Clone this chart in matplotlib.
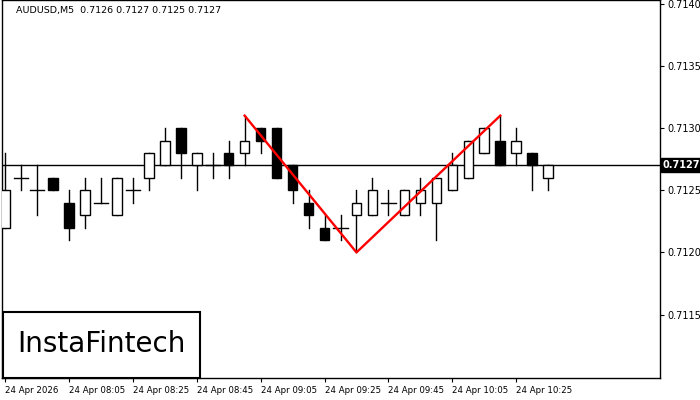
import matplotlib
matplotlib.use("Agg")
import matplotlib.pyplot as plt
from matplotlib.patches import Rectangle

# prices in pips above 0.7120
opens  = [2, 6, 5, 6, 4, 3, 4, 3, 5, 6, 7, 10, 7, 7, 8, 8, 10, 10, 7, 4, 2, 2, 3, 3, 4, 3, 4, 4, 5, 6, 8, 9, 8, 8, 6]
closes = [5, 6, 5, 5, 2, 5, 4, 6, 5, 8, 9, 8, 8, 7, 7, 9, 9, 6, 5, 3, 1, 2, 4, 5, 4, 5, 5, 6, 7, 9, 10, 7, 9, 7, 7]
highs  = [8, 7, 7, 6, 5, 6, 6, 6, 6, 8, 10, 10, 8, 8, 9, 11, 10, 10, 7, 5, 3, 3, 5, 6, 5, 5, 6, 6, 8, 9, 10, 11, 10, 8, 7]
lows   = [2, 5, 3, 5, 1, 2, 4, 3, 4, 5, 7, 6, 5, 6, 6, 7, 8, 6, 4, 2, 1, 1, 0, 3, 3, 3, 3, 1, 5, 6, 8, 7, 7, 5, 5]
tick_idx = [0, 4, 8, 12, 16, 20, 24, 28, 32]
tick_labels = ["24 Apr 2026", "24 Apr 08:05", "24 Apr 08:25", "24 Apr 08:45", "24 Apr 09:05",
               "24 Apr 09:25", "24 Apr 09:45", "24 Apr 10:05", "24 Apr 10:25"]
pattern_x = [15, 22, 31]
pattern_y = [0.7131, 0.7120, 0.7131]
last_price = 0.7127

BASE = 0.7120
PIP = 0.0001

fig = plt.figure(figsize=(7, 4), dpi=100)
ax = fig.add_axes([2 / 700, 22 / 400, 658 / 700, 378 / 400])

for i, (o, c, h, l) in enumerate(zip(opens, closes, highs, lows)):
    o, c, h, l = (BASE + v * PIP for v in (o, c, h, l))
    ax.plot([i, i], [l, h], color="black", lw=1, zorder=2)
    if o == c:
        ax.plot([i - 0.45, i + 0.45], [o, o], color="black", lw=1, zorder=3)
    else:
        ax.add_patch(Rectangle((i - 0.3, min(o, c)), 0.6, abs(c - o),
                               facecolor="black" if c < o else "white",
                               edgecolor="black", lw=1, zorder=3))

ax.axhline(last_price, color="black", lw=1, zorder=1)
ax.plot(pattern_x, pattern_y, color="#ff0000", lw=1.7, zorder=4)

ax.set_xlim(-0.19, 41.0)
ax.set_ylim(0.71099, 0.71403)
ax.yaxis.tick_right()
ax.set_yticks([0.7115, 0.7120, 0.7125, 0.7130, 0.7135, 0.7140])
ax.set_yticklabels([f"{v:.4f}" for v in ax.get_yticks()])
ax.set_xticks(tick_idx)
ax.set_xticklabels(tick_labels, ha="left")
ax.tick_params(labelsize=7, length=3, pad=2)
ax.tick_params(axis="x", labelsize=6.2, pad=3)
for s in ax.spines.values():
    s.set_linewidth(1)

ax.text(1.004, (last_price - 0.71099) / (0.71403 - 0.71099), f"{last_price:.4f}",
        transform=ax.transAxes, fontsize=7, fontweight="bold", color="white", va="center",
        bbox=dict(facecolor="black", edgecolor="black", pad=1.5))
ax.text(0.022, 0.985, "AUDUSD,M5  0.7126 0.7127 0.7125 0.7127", transform=ax.transAxes,
        fontsize=6.8, va="top")

fig.patches.append(Rectangle((3 / 700, 22 / 400), 197 / 700, 66 / 400, transform=fig.transFigure,
                             facecolor="white", edgecolor="black", lw=1.5, zorder=5))
fig.text(101 / 700, 56 / 400, "InstaFintech", fontsize=20, ha="center", va="center", zorder=6)

fig.savefig("out.png", dpi=100)
